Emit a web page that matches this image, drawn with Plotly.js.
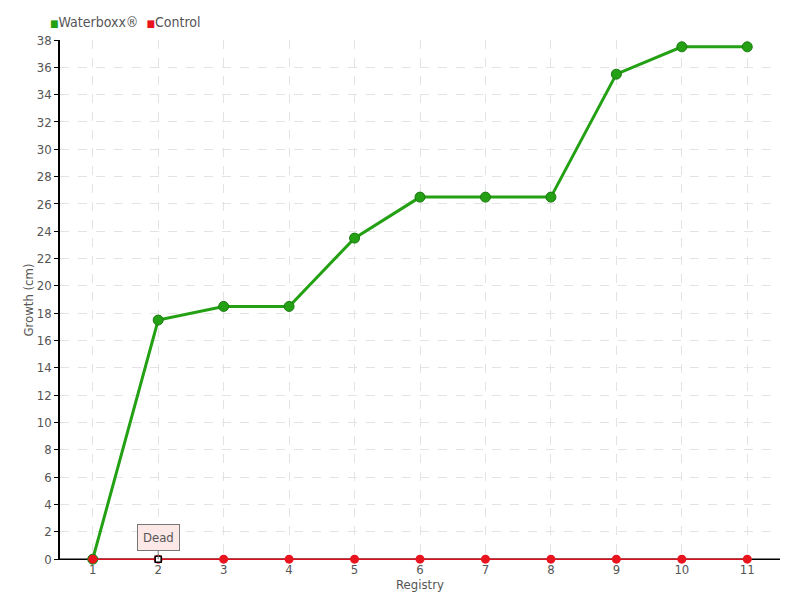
<!DOCTYPE html>
<html><head><meta charset="utf-8">
<script src="https://cdn.plot.ly/plotly-3.0.1.min.js"></script>
<style>body{margin:0}#c{width:800px;height:600px}</style>
</head><body><div id="c"></div>
<script>
const registry = [1,2,3,4,5,6,7,8,9,10,11];
const waterboxx = [0,17.5,18.5,18.5,23.5,26.5,26.5,26.5,35.5,37.5,37.5];
const control = [0,0,0,0,0,0,0,0,0,0,0];
const deadIndex = 1;
const deadLabel = 'Dead';
const seriesNames = ['Waterboxx®', 'Control'];
const seriesColors = ['#23a013', '#e8141e'];
const yTicks = [0,2,4,6,8,10,12,14,16,18,20,22,24,26,28,30,32,34,36,38];

const font = 'DejaVu Sans Condensed, Liberation Sans Narrow, sans-serif';
const traces = [
 {x: registry, y: waterboxx, name: seriesNames[0], mode: 'lines+markers', type: 'scatter', cliponaxis: false,
  line: {color: '#23a013', width: 3}, marker: {color: '#23a013', size: 10, line: {color: '#1a7a10', width: 1}}},
 {x: registry, y: control, name: seriesNames[1], mode: 'lines+markers', type: 'scatter', cliponaxis: false,
  line: {color: '#d9101e', width: 1.5}, marker: {color: '#e8141e', size: 9}},
 {x: [registry[deadIndex]], y: [control[deadIndex]], mode: 'markers', type: 'scatter', showlegend: false, cliponaxis: false,
  marker: {symbol: 'square', color: 'white', size: 6, line: {color: 'black', width: 1.5}}}
];
const legendText = seriesNames.map((n, i) =>
  `<span style="color:${seriesColors[i]};font-size:10px">■</span>${n}`).join('  ');
const layout = {
 width: 800, height: 600,
 margin: {l: 60, r: 20, t: 40, b: 40},
 paper_bgcolor: 'white', plot_bgcolor: 'white',
 font: {family: font, color: '#555', size: 13},
 showlegend: false,
 xaxis: {range: [0.5, 11.5], tickvals: registry, ticktext: registry.map(String), showgrid: true,
   gridcolor: '#e3e3e3', griddash: 'dash', zeroline: false, showline: false, ticks: '',
   tickfont: {size: 13, color: '#555'},
   title: {text: 'Registry', font: {size: 13, color: '#555'}, standoff: 0}},
 yaxis: {range: [-0.06, 38], tickvals: yTicks, showgrid: true, gridcolor: '#e3e3e3', griddash: 'dash',
   zeroline: false, showline: true, linecolor: 'black', linewidth: 1.5, ticks: 'outside', ticklen: 4,
   tickcolor: 'black', tickfont: {size: 13, color: '#555'},
   title: {text: 'Growth (cm)', font: {size: 13, color: '#555'}, standoff: 0}},
 shapes: [{type: 'line', xref: 'paper', yref: 'y', x0: 0, x1: 1, y0: 0, y1: 0, line: {color: 'black', width: 1.5}, layer: 'below'}],
 annotations: [
  {x: registry[deadIndex], y: control[deadIndex], text: deadLabel, showarrow: true,
   arrowhead: 0, arrowcolor: '#777', arrowwidth: 1, ax: 0, ay: -22, bgcolor: '#fde8e8',
   bordercolor: '#777', borderwidth: 1, borderpad: 5, font: {size: 13, color: '#555'}},
  {xref: 'paper', yref: 'paper', x: -0.016, y: 1.035, xanchor: 'left', yanchor: 'middle', showarrow: false,
   text: legendText, font: {size: 14, color: '#555'}}
 ]
};
Plotly.newPlot('c', traces, layout, {displayModeBar: false});
</script></body></html>
